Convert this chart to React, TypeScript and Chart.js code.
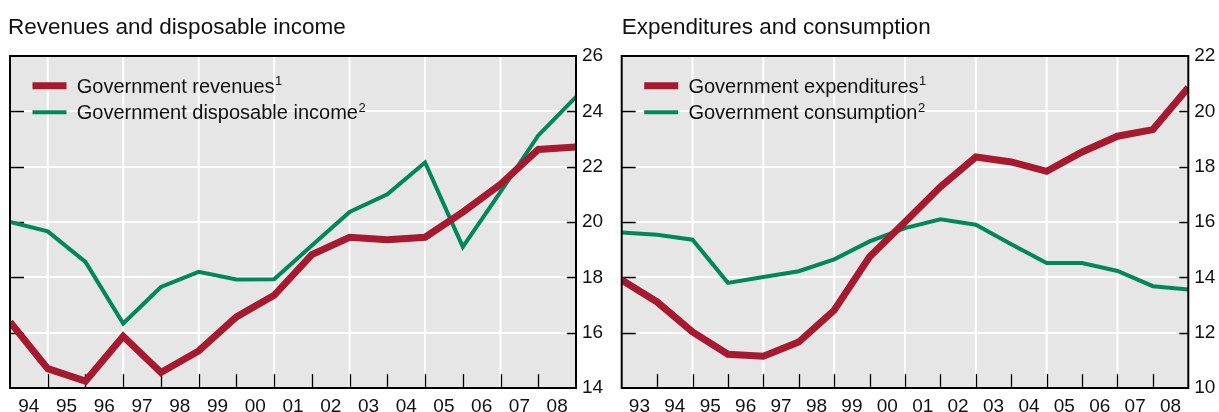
import React, { useEffect, useRef } from "react";
import { Chart, registerables } from "chart.js";

Chart.register(...registerables);

// ---------- data ----------
const leftTitle = "Revenues and disposable income";
const leftYears = ["94", "95", "96", "97", "98", "99", "00", "01", "02", "03", "04", "05", "06", "07", "08"];
const revenues = [16.39, 14.7, 14.25, 15.87, 14.56, 15.34, 16.57, 17.35, 18.82, 19.45, 19.36, 19.45, 20.36, 21.36, 22.62, 22.71];
const disposableIncome = [20.0, 19.66, 18.56, 16.33, 17.65, 18.2, 17.92, 17.93, 19.15, 20.36, 21.0, 22.15, 19.1, 21.09, 23.13, 24.52];
const leftLabels = ["Government revenues", "Government disposable income"];
const leftNotes = ["1", "2"];
const leftYMin = 14;
const leftYMax = 26;

const rightTitle = "Expenditures and consumption";
const rightYears = ["93", "94", "95", "96", "97", "98", "99", "00", "01", "02", "03", "04", "05", "06", "07", "08"];
const expenditures = [13.9, 13.11, 12.03, 11.22, 11.15, 11.66, 12.81, 14.74, 16.0, 17.27, 18.35, 18.17, 17.83, 18.53, 19.1, 19.34, 20.86];
const consumption = [15.62, 15.54, 15.36, 13.8, 14.01, 14.22, 14.65, 15.3, 15.78, 16.1, 15.9, 15.2, 14.52, 14.52, 14.23, 13.68, 13.56];
const rightLabels = ["Government expenditures", "Government consumption"];
const rightNotes = ["1", "2"];
const rightYMin = 10;
const rightYMax = 22;

// ---------- style ----------
const RED = "#a6192e";
const GREEN = "#00885a";
const BG = "#e6e6e6";
const FONT = "'Liberation Sans', Arial, sans-serif";
const FS = 19;
const LEG_FS = 20;
const TITLE_FS = 22.5;

const panelPlugin = {
  id: "panel",
  beforeDraw(chart: any) {
    const { ctx, chartArea: a } = chart;
    ctx.save();
    ctx.fillStyle = BG;
    ctx.fillRect(a.left, a.top, a.right - a.left, a.bottom - a.top);
    ctx.restore();
  },
  beforeDatasetsDraw(chart: any, _args: any, opts: any) {
    const { ctx, chartArea: a } = chart;
    const xs = chart.scales.x;
    const ys = chart.scales.y;
    const years: string[] = opts.years;
    ctx.save();
    // white vertical gridlines at the start of odd years
    ctx.strokeStyle = "#ffffff";
    ctx.lineWidth = 2;
    years.forEach((yr, i) => {
      if (i > 0 && parseInt(yr, 10) % 2 === 1) {
        const px = xs.getPixelForValue(i);
        ctx.beginPath();
        ctx.moveTo(px, a.top);
        ctx.lineTo(px, a.bottom);
        ctx.stroke();
      }
    });
    // black tick marks inside
    ctx.strokeStyle = "#000000";
    ctx.lineWidth = 1.3;
    for (let i = 1; i < years.length; i++) {
      const px = Math.round(xs.getPixelForValue(i)) + 0.5;
      ctx.beginPath();
      ctx.moveTo(px, a.bottom);
      ctx.lineTo(px, a.bottom - 14);
      ctx.stroke();
    }
    ys.ticks.forEach((t: any) => {
      if (t.value > ys.min && t.value < ys.max) {
        const py = Math.round(ys.getPixelForValue(t.value)) + 0.5;
        ctx.beginPath();
        ctx.moveTo(a.left, py);
        ctx.lineTo(a.left + 14, py);
        ctx.moveTo(a.right, py);
        ctx.lineTo(a.right - 9, py);
        ctx.stroke();
      }
    });
    ctx.restore();
  },
  afterDatasetsDraw(chart: any, _args: any, opts: any) {
    const { ctx, chartArea: a } = chart;
    ctx.save();
    // border
    ctx.strokeStyle = "#000000";
    ctx.lineWidth = 2;
    ctx.strokeRect(a.left, a.top, a.right - a.left, a.bottom - a.top);
    // legend
    const notes: string[] = opts.notes;
    chart.data.datasets.forEach((ds: any, i: number) => {
      const cy = a.top + 29.7 + i * 26.6;
      ctx.strokeStyle = ds.borderColor;
      ctx.lineWidth = ds.borderWidth;
      ctx.lineCap = "butt";
      ctx.beginPath();
      ctx.moveTo(a.left + 22.5, cy);
      ctx.lineTo(a.left + 56.5, cy);
      ctx.stroke();
      ctx.fillStyle = "#111111";
      ctx.textBaseline = "alphabetic";
      ctx.textAlign = "left";
      ctx.font = `${LEG_FS}px ${FONT}`;
      const tx = a.left + 66.7;
      const by = cy + 7;
      ctx.fillText(ds.label, tx, by);
      const w = ctx.measureText(ds.label).width;
      ctx.font = `13px ${FONT}`;
      ctx.fillText(notes[i], tx + w + 0.5, by - 7.5);
    });
    ctx.restore();
  },
};

function makeConfig(
  title: string,
  years: string[],
  a: number[],
  b: number[],
  labels: string[],
  notes: string[],
  yMin: number,
  yMax: number,
  padLeft: number,
  yWidth: number,
  dummyLeft: boolean
): any {
  const n = a.length - 1;
  const scales: any = {
    x: {
      type: "linear",
      min: 0,
      max: n,
      afterBuildTicks: (s: any) => {
        s.ticks = years.map((_, i) => ({ value: i + 0.5 }));
      },
      ticks: {
        autoSkip: false,
        maxRotation: 0,
        minRotation: 0,
        padding: 7,
        color: "#111111",
        font: { size: FS, family: FONT },
        callback: (_v: any, i: number) => years[i],
      },
      grid: { display: false, drawTicks: false },
      border: { display: false },
      afterFit: (s: any) => {
        s.height = 24;
      },
    },
    y: {
      type: "linear",
      position: "right",
      min: yMin,
      max: yMax,
      ticks: {
        stepSize: 2,
        padding: 6,
        color: "#111111",
        font: { size: FS, family: FONT },
      },
      grid: { color: "#ffffff", lineWidth: 2, drawTicks: false },
      border: { display: false },
      afterFit: (s: any) => {
        s.width = yWidth;
      },
    },
  };
  if (dummyLeft) {
    scales.yDummy = {
      type: "linear",
      position: "left",
      display: true,
      ticks: { display: false },
      grid: { display: false, drawTicks: false },
      border: { display: false },
      afterFit: (s: any) => {
        s.width = 2;
      },
    };
  }
  return {
    type: "line",
    data: {
      datasets: [
        {
          label: labels[0],
          data: a.map((v, i) => ({ x: i, y: v })),
          borderColor: RED,
          borderWidth: 7,
          pointRadius: 0,
          tension: 0,
          clip: 0,
        },
        {
          label: labels[1],
          data: b.map((v, i) => ({ x: i, y: v })),
          borderColor: GREEN,
          borderWidth: 4,
          pointRadius: 0,
          tension: 0,
          clip: 0,
        },
      ],
    },
    options: {
      animation: false,
      responsive: false,
      events: [],
      layout: { padding: { left: padLeft, right: 0, top: 0, bottom: 0 } },
      plugins: {
        legend: { display: false },
        tooltip: { enabled: false },
        title: {
          display: true,
          text: title,
          align: "start",
          color: "#111111",
          font: { size: TITLE_FS, family: FONT, weight: "normal" },
          padding: { top: 14.5, bottom: 14.5 },
        },
        panel: { years, notes },
      },
      scales,
    },
    plugins: [panelPlugin],
  };
}

function Panel(props: { cfg: () => any; width: number }) {
  const ref = useRef<HTMLCanvasElement | null>(null);
  useEffect(() => {
    if (!ref.current) return;
    const chart = new Chart(ref.current, props.cfg());
    return () => chart.destroy();
  }, []);
  return (
    <canvas
      ref={ref}
      width={props.width}
      height={412}
      style={{ display: "block", width: props.width, height: 412 }}
    />
  );
}

export default function App() {
  return (
    <div
      style={{
        position: "absolute",
        left: 0,
        top: 0,
        width: 1219,
        height: 412,
        display: "flex",
        overflow: "hidden",
        background: "#ffffff",
      }}
    >
      <Panel
        width={609}
        cfg={() =>
          makeConfig(leftTitle, leftYears, revenues, disposableIncome, leftLabels, leftNotes, leftYMin, leftYMax, 8, 33, true)
        }
      />
      <Panel
        width={610}
        cfg={() =>
          makeConfig(rightTitle, rightYears, expenditures, consumption, rightLabels, rightNotes, rightYMin, rightYMax, 12.7, 30.7, false)
        }
      />
    </div>
  );
}
